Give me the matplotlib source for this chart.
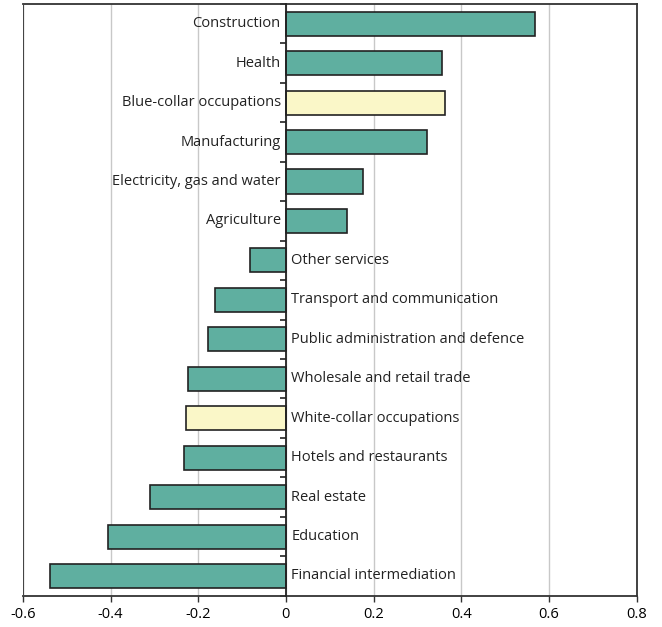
import matplotlib
matplotlib.use("Agg")
import matplotlib.pyplot as plt
import numpy as np

plt.rcParams['font.family'] = ['Open Sans', 'DejaVu Sans']

# categories from bottom to top
categorias = ['Financial intermediation', 'Education', 'Real estate', 'Hotels and restaurants',
              'White-collar occupations', 'Wholesale and retail trade',
              'Public administration and defence', 'Transport and communication',
              'Other services', 'Agriculture', 'Electricity, gas and water',
              'Manufacturing', 'Blue-collar occupations', 'Health', 'Construction']
valores = [-0.539, -0.406, -0.311, -0.232, -0.229, -0.224, -0.177, -0.161,
           -0.082, 0.139, 0.176, 0.323, 0.364, 0.356, 0.568]
ocupacao = ['White-collar occupations', 'Blue-collar occupations']

teal = '#5fafa0'
amarelo = '#faf7c8'
cores = [amarelo if c in ocupacao else teal for c in categorias]

fig = plt.figure(figsize=(6.62, 6.27), dpi=100)
ax = fig.add_axes([0.0347, 0.0499, 0.9268, 0.9437])

y = np.arange(len(categorias))
ax.barh(y, valores, height=0.61, color=cores, edgecolor='#222222', linewidth=1.2, zorder=3)

ax.set_xlim(-0.6, 0.8)
ax.set_ylim(-0.5, len(categorias) - 0.5)
ax.set_xticks(np.arange(-0.6, 0.81, 0.2))
ax.set_xticklabels(['-0.6', '-0.4', '-0.2', '0', '0.2', '0.4', '0.6', '0.8'], fontsize=10.5)
ax.grid(axis='x', color='#c8c8c8', linewidth=1, zorder=0)

# eixo y na posicao zero, com marcas entre as categorias
ax.spines['left'].set_position(('data', 0))
ax.spines['left'].set_zorder(4)
ax.set_yticks([])
ax.set_yticks(np.arange(-0.5, len(categorias), 1), minor=True)
ax.tick_params(axis='y', which='minor', length=4, width=1.2, direction='out', color='#222222')
ax.tick_params(axis='x', length=4, width=1, color='#333333', pad=4)
ax.axvline(-0.6, color='#444444', linewidth=1.5, zorder=5)

for s in ['top', 'right', 'bottom']:
    ax.spines[s].set_color('#333333')
    ax.spines[s].set_linewidth(1.3)
ax.spines['left'].set_color('#222222')
ax.spines['left'].set_linewidth(1.3)

for yi, v, c in zip(y, valores, categorias):
    if v >= 0:
        ax.text(-0.012, yi, c, ha='right', va='center', fontsize=10.5, color='#222222')
    else:
        ax.text(0.012, yi, c, ha='left', va='center', fontsize=10.5, color='#222222')

fig.savefig('out.png', dpi=100)
